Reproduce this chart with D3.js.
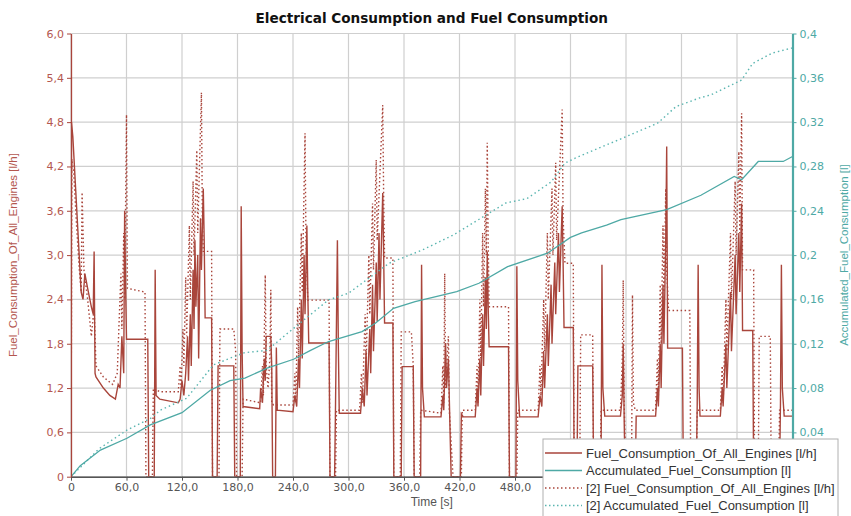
<!DOCTYPE html>
<html><head><meta charset="utf-8">
<script src="https://cdn.jsdelivr.net/npm/d3@7"></script>
<style>body{margin:0;background:#fff}svg{display:block}</style>
</head><body>
<script>
const W=851,H=516;
const title="Electrical Consumption and Fuel Consumption";
const xTicks=[0,60,120,180,240,300,360,420,480,540,600,660,720];
const xTickLabelsShown=[0,60,120,180,240,300,360,420,480];
const yLeftTicks=[0,0.6,1.2,1.8,2.4,3.0,3.6,4.2,4.8,5.4,6.0];
const yRightTicks=[0,0.04,0.08,0.12,0.16,0.2,0.24,0.28,0.32,0.36,0.4];
const legendLabels=["Fuel_Consumption_Of_All_Engines [l/h]","Accumulated_Fuel_Consumption [l]","[2] Fuel_Consumption_Of_All_Engines [l/h]","[2] Accumulated_Fuel_Consumption [l]"];

// [time s, l/h]
const fuel=[[0,0],[0.5,4.8],[2,4.6],[5,3.9],[8,3.2],[11,2.5],[13,2.4],[15,2.75],[18,2.55],[22,2.3],[24,2.2],[25,3.05],[26,1.4],[27,1.35],[35,1.2],[42,1.1],[48,1.05],[51,1.25],[53,1.2],[55,1.9],[57,1.4],[58,3.6],[59,2.6],[60,1.86],[83,1.86],[84,0],[90,0],[91,2.8],[92,1.1],[96,1.05],[116,1.0],[118,1.05],[120,1.3],[122,1.1],[124,1.4],[126,1.9],[127,1.3],[129,2.2],[130,1.5],[132,2.8],[133,2.0],[134,3.2],[135,2.3],[137,3.0],[138,1.6],[140,3.5],[141,2.8],[143,3.9],[144,3.2],[145,2.15],[152,2.15],[153,0],[158,0],[159,1.5],[176,1.5],[177,0],[183,0],[184,3.66],[185,1.7],[186,0.95],[204,0.92],[205,1.2],[207,1.0],[209,1.6],[210,1.3],[211,1.9],[216,1.9],[217,1.5],[218,0],[221,0],[222,1.75],[223,0.9],[240,0.88],[242,1.1],[244,0.95],[246,1.6],[247,1.2],[249,2.4],[250,1.6],[252,3.0],[253,2.2],[255,3.4],[256,2.5],[257,1.81],[279,1.81],[280,0],[285,0],[286,1.0],[288,3.2],[289,1.8],[290,0.86],[313,0.86],[315,1.2],[317,0.95],[319,1.7],[320,1.1],[323,2.0],[324,1.4],[326,2.6],[327,1.7],[330,2.9],[331,2.1],[333,3.3],[334,2.4],[337,3.84],[338,3.0],[339,2.08],[348,2.08],[349,0],[357,0],[358,1.49],[370,1.49],[371,0],[378,0],[379,2.87],[380,1.2],[382,0.81],[400,0.81],[402,1.1],[403,0.9],[405,1.81],[406,1.2],[408,1.6],[410,0.5],[411,0],[421,0],[422,0.85],[424,0.81],[437,0.81],[439,1.2],[440,0.95],[442,1.6],[443,1.1],[445,2.2],[446,1.5],[448,2.7],[449,2.0],[450,3.05],[451,2.3],[452,1.76],[473,1.76],[474,0],[481,0],[482,2.85],[483,1.3],[485,0.81],[505,0.81],[507,1.1],[509,0.95],[511,1.7],[512,1.2],[515,2.2],[516,1.5],[519,2.6],[520,1.8],[523,2.9],[524,2.2],[527,3.3],[528,2.5],[531,3.66],[532,2.9],[533,2.02],[543,2.02],[544,0],[547,0],[548,1.5],[564,1.5],[565,0],[573,0],[574,2.87],[575,1.2],[577,0.82],[594,0.82],[596,1.1],[597,1.8],[598,0.8],[599,0],[610,0],[611,0.82],[632,0.82],[634,1.2],[635,0.95],[637,1.8],[638,1.2],[640,2.6],[641,1.8],[643,3.25],[644,4.47],[645,1.74],[661,1.74],[662,0],[676,0],[677,1.0],[678,2.87],[679,1.2],[680,0.82],[702,0.82],[704,1.2],[705,0.95],[708,1.8],[709,1.2],[713,2.5],[714,1.7],[718,3.0],[719,2.2],[722,3.3],[723,2.5],[725,3.7],[726,1.98],[737,1.98],[738,0],[766,0],[767,1.0],[768,2.87],[769,1.2],[771,0.82],[780,0.82]];

const fuel2=[[0,0],[1,4.3],[3,4.1],[6,3.4],[9,2.8],[11,2.5],[12,3.85],[14,2.8],[18,2.4],[22,1.9],[25,2.3],[27,1.5],[35,1.35],[45,1.25],[50,1.4],[52,2.1],[54,2.75],[55,2.0],[57,3.3],[58,2.4],[60,4.9],[61,2.55],[80,2.5],[81,0],[88,0],[89,1.2],[96,1.15],[116,1.15],[118,1.5],[119,1.2],[121,2.0],[122,1.5],[124,2.7],[125,1.9],[128,3.4],[129,2.4],[132,4.0],[133,3.0],[136,4.42],[137,3.3],[141,5.2],[142,3.5],[143,3.05],[152,3.05],[153,0],[160,0],[161,2.0],[176,2.0],[178,1.7],[179,0],[185,0],[186,1.05],[205,1.0],[207,1.5],[208,1.1],[210,2.73],[211,1.5],[213,1.2],[215,1.6],[216,2.53],[217,1.0],[219,0.97],[240,0.97],[242,1.4],[243,1.0],[245,2.3],[246,1.6],[249,3.3],[250,2.5],[253,4.65],[254,3.2],[256,2.39],[279,2.39],[280,0],[286,0],[287,0.9],[312,0.9],[314,1.4],[315,1.0],[318,2.2],[319,1.5],[322,3.0],[323,2.2],[326,3.7],[327,2.8],[330,4.29],[331,3.2],[337,5.03],[338,3.8],[339,2.96],[348,2.96],[349,0],[356,0],[357,1.96],[368,1.96],[370,1.5],[371,0],[377,0],[378,0.9],[400,0.86],[402,1.5],[403,1.0],[404,2.75],[405,1.2],[408,1.9],[409,0.9],[413,0],[422,0],[423,0.9],[437,0.9],[439,1.5],[440,1.0],[442,2.4],[443,1.6],[445,3.3],[446,2.3],[448,3.9],[449,3.0],[450,4.52],[451,3.2],[452,2.3],[473,2.3],[474,0],[482,0],[483,0.9],[505,0.9],[507,1.5],[508,1.1],[511,2.4],[512,1.7],[515,3.3],[516,2.4],[520,3.9],[521,3.0],[524,4.25],[525,3.2],[531,4.97],[532,3.5],[534,2.89],[543,2.89],[544,0],[550,0],[551,1.92],[564,1.92],[565,0],[572,0],[573,0.9],[594,0.9],[596,1.6],[597,2.66],[598,1.0],[600,0],[606,0],[607,2.46],[608,1.0],[610,0.9],[632,0.9],[634,1.6],[635,1.1],[637,2.6],[638,1.8],[640,3.4],[641,2.5],[643,3.9],[644,2.8],[646,2.25],[669,2.25],[670,0],[676,0],[677,0.9],[702,0.9],[704,1.5],[705,1.0],[708,2.4],[709,1.7],[713,3.3],[714,2.4],[718,4.0],[719,3.0],[722,4.4],[723,3.3],[725,4.92],[726,2.8],[738,2.8],[739,0],[743,0],[744,1.9],[756,1.9],[757,0],[765,0],[766,0.9],[780,0.9]];

// [time s, l]
const accum=[[0,0],[10,0.01],[31.8,0.024],[60.5,0.0347],[85.7,0.0467],[120,0.0578],[150.6,0.078],[172,0.0867],[188,0.089],[212,0.098],[240.6,0.106],[259,0.114],[278.5,0.122],[314.6,0.131],[329,0.1385],[348.7,0.152],[372,0.158],[417,0.167],[441,0.1746],[472,0.1896],[515,0.2017],[540,0.216],[552,0.22],[579,0.227],[594.5,0.232],[644,0.241],[681,0.254],[717,0.271],[725,0.268],[743,0.2845],[770,0.2845],[780,0.289]];
const accum2=[[0,0],[30,0.025],[60.5,0.042],[86,0.0527],[96.5,0.06],[125,0.0708],[154,0.1009],[172,0.107],[188,0.112],[212,0.114],[232,0.128],[278.5,0.1596],[300,0.1656],[344,0.1927],[380,0.2047],[413,0.218],[470,0.247],[493,0.251],[519,0.266],[534,0.283],[545,0.2875],[566,0.295],[592,0.304],[617,0.313],[634,0.319],[654,0.334],[679,0.3417],[692,0.3447],[725,0.358],[737,0.373],[758,0.3823],[780,0.387]];

const RED="#a9453b", TEAL="#4ea9a5", TEAL2="#5ab5b0";
const L=71,R=792.5,T=33.5,B=476.7;
const x=d3.scaleLinear().domain([0,780]).range([L,R]);
const yL=d3.scaleLinear().domain([0,6]).range([B,T]);
const yR=d3.scaleLinear().domain([0,0.4]).range([B,T]);

const svg=d3.select("body").append("svg").attr("width",W).attr("height",H);
svg.append("rect").attr("width",W).attr("height",H).attr("fill","#fff");

svg.append("text").attr("x",(L+R)/2).attr("y",23).attr("text-anchor","middle")
 .attr("font-family","DejaVu Sans").attr("font-weight","bold").attr("font-size",13.6).attr("fill","#111").text(title);

// grid
const g=svg.append("g");
g.selectAll(".gy").data(yLeftTicks).join("line").attr("x1",L).attr("x2",R).attr("y1",d=>yL(d)).attr("y2",d=>yL(d)).attr("stroke","#cfcfcf").attr("stroke-width",1.2);
g.selectAll(".gx").data(xTicks).join("line").attr("y1",T).attr("y2",B).attr("x1",d=>x(d)).attr("x2",d=>x(d)).attr("stroke","#cfcfcf").attr("stroke-width",1.2);

svg.append("clipPath").attr("id","clip").append("rect").attr("x",L).attr("y",T-1).attr("width",R-L).attr("height",B-T+1);
const plot=svg.append("g").attr("clip-path","url(#clip)");
const lineL=d3.line().x(d=>x(d[0])).y(d=>yL(d[1]));
const lineR=d3.line().x(d=>x(d[0])).y(d=>yR(d[1]));

plot.append("path").datum(fuel2).attr("d",lineL).attr("fill","none").attr("stroke",RED).attr("stroke-width",1.4).attr("stroke-dasharray","1.5,2.5");
plot.append("path").datum(fuel).attr("d",lineL).attr("fill","none").attr("stroke",RED).attr("stroke-width",1.4);
plot.append("path").datum(accum2).attr("d",lineR).attr("fill","none").attr("stroke",TEAL2).attr("stroke-width",1.4).attr("stroke-dasharray","1.5,3");
plot.append("path").datum(accum).attr("d",lineR).attr("fill","none").attr("stroke",TEAL).attr("stroke-width",1.3);

// axes
const fmt=v=>v===0?"0":String(+v.toFixed(2)).replace(".",",");
const fmt1=v=>v===0?"0":v.toFixed(1).replace(".",",");
const ax=svg.append("g").attr("transform",`translate(0,${B})`).call(d3.axisBottom(x).tickValues(xTicks).tickFormat(d=>xTickLabelsShown.includes(d)?fmt1(d):"").tickSize(4).tickPadding(2).tickSizeOuter(0));
ax.select(".domain").attr("stroke","#555").attr("stroke-width",1.5);
ax.selectAll(".tick line").attr("stroke","#555");
ax.selectAll("text").attr("font-family","DejaVu Sans").attr("font-size",11).attr("fill","#555").attr("dy","0.72em");

const al=svg.append("g").attr("transform",`translate(${L},0)`).call(d3.axisLeft(yL).tickValues(yLeftTicks).tickFormat(fmt1).tickSize(4).tickSizeOuter(0));
al.select(".domain").attr("stroke",RED).attr("stroke-width",1.3);
al.selectAll(".tick line").attr("stroke",RED);
al.selectAll("text").attr("font-family","DejaVu Sans").attr("font-size",11).attr("fill","#b4574f");

const ar=svg.append("g").attr("transform",`translate(${R},0)`).call(d3.axisRight(yR).tickValues(yRightTicks).tickFormat(d=>d===0?"":fmt(d)).tickSize(4).tickSizeOuter(0));
ar.select(".domain").attr("stroke",TEAL).attr("stroke-width",2.2);
ar.selectAll(".tick line").attr("stroke",TEAL);
ar.selectAll("text").attr("font-family","DejaVu Sans").attr("font-size",11).attr("fill","#4ea9a5");

svg.append("text").attr("x",(L+R)/2).attr("y",506).attr("text-anchor","middle").attr("font-family","Liberation Sans").attr("font-size",12).attr("fill","#555").text("Time [s]");
svg.append("text").attr("transform",`translate(17,${(T+B)/2}) rotate(-90)`).attr("text-anchor","middle").attr("font-family","Liberation Sans").attr("font-size",11.5).attr("fill","#b4574f").text("Fuel_Consumption_Of_All_Engines [l/h]");
svg.append("text").attr("transform",`translate(848,${(T+B)/2}) rotate(-90)`).attr("text-anchor","middle").attr("font-family","Liberation Sans").attr("font-size",11.5).attr("fill","#4ea9a5").text("Accumulated_Fuel_Consumption [l]");

// legend
const lg=svg.append("g");
lg.append("rect").attr("x",543).attr("y",439).attr("width",295).attr("height",90).attr("fill","#fff").attr("stroke","#b0b0b0");
const styles=[{c:RED,d:null},{c:TEAL,d:null},{c:RED,d:"1.5,2.5"},{c:TEAL2,d:"1.5,2.5"}];
legendLabels.forEach((t,i)=>{
 const yy=453+i*17.5;
 lg.append("line").attr("x1",545).attr("x2",582).attr("y1",yy).attr("y2",yy).attr("stroke",styles[i].c).attr("stroke-width",1.3).attr("stroke-dasharray",styles[i].d);
 lg.append("text").attr("x",586).attr("y",yy+4.5).attr("font-family","Liberation Sans").attr("font-size",13).attr("fill","#333").text(t);
});
</script>
</body></html>
